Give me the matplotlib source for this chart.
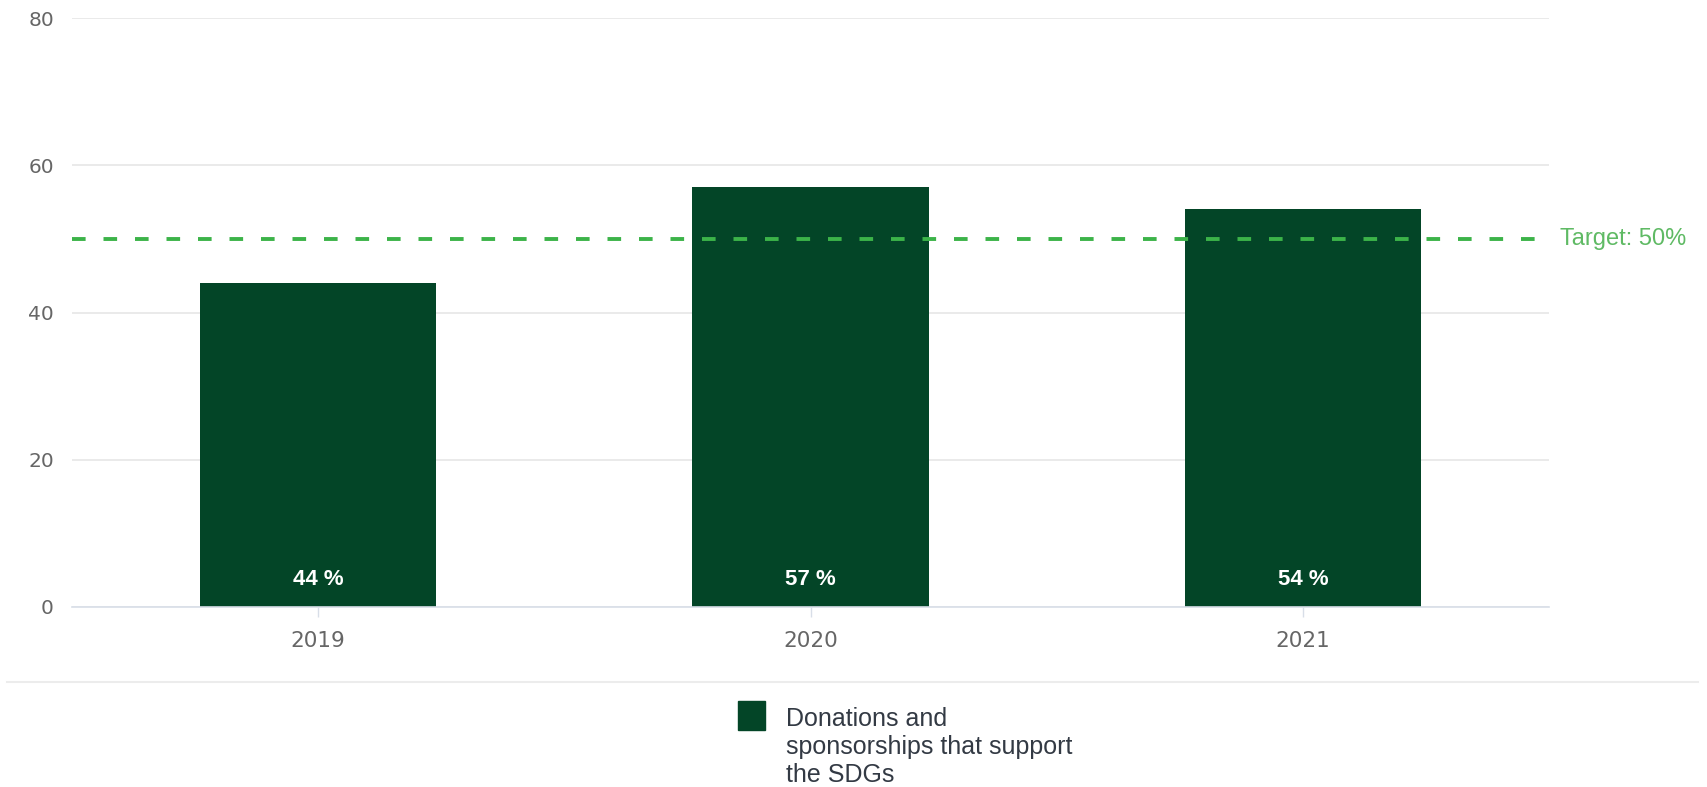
import matplotlib.pyplot as plt
from matplotlib.patches import Rectangle
from matplotlib.lines import Line2D

# Share of donations and sponsorships supporting the SDGs (%)
years = ["2019", "2020", "2021"]
share = [44, 57, 54]
target = 50
series_name = "Donations and\nsponsorships that support\nthe SDGs"

bar_color = "#034527"
target_color = "#3cb349"
grid_color = "#e6e6e6"

W, H = 1707, 787
fig = plt.figure(figsize=(W / 100, H / 100), dpi=100)
ax = fig.add_axes([72 / W, 1 - 607 / H, (1549 - 72) / W, (607 - 18) / H])

x = range(len(years))
bars = ax.bar(x, share, width=0.48, color=bar_color, zorder=2)
ax.set_xlim(-0.5, 2.5)
ax.set_ylim(0, 80)
ax.set_yticks([0, 20, 40, 60, 80])
ax.set_xticks(list(x))
ax.set_xticklabels(years)

ax.grid(axis="y", color=grid_color, linewidth=1.2, zorder=0)
for side in ["top", "right", "left"]:
    ax.spines[side].set_visible(False)
ax.spines["bottom"].set_color("#d8dee8")
ax.spines["bottom"].set_linewidth(1.2)
ax.tick_params(axis="y", length=0, pad=13, labelsize=14.5, labelcolor="#666666")
ax.tick_params(axis="x", length=7, width=1, color="#d8dee8", pad=10,
               labelsize=15.5, labelcolor="#666666")

# value labels inside the bars, near the base
for rect, v in zip(bars, share):
    ax.text(rect.get_x() + rect.get_width() / 2, 3.8, f"{v} %", ha="center", va="center",
            color="white", fontsize=16, fontweight="bold", family="Liberation Sans",
            zorder=3)

# target line
ax.axhline(target, color=target_color, linewidth=2.8, dashes=(3.5, 4.6), zorder=4)
ax.text(1.0075, target, f"Target: {target}%", transform=ax.get_yaxis_transform(),
        ha="left", va="center", color="#5fba64", fontsize=17,
        family="Liberation Sans", clip_on=False)

# separator above the legend
fig.add_artist(Line2D([7 / W, 1698 / W], [1 - 682 / H] * 2, color="#ececec",
                      linewidth=1.5))

# legend
fig.add_artist(Rectangle((738 / W, 1 - 730 / H), 27 / W, 29 / H,
                         color=bar_color, transform=fig.transFigure))
fig.text(786 / W, 1 - 747 / H, series_name, ha="left", va="center", fontsize=18,
         family="Liberation Sans", color="#333a44", linespacing=1.2)

fig.savefig("out.png", dpi=100, facecolor="white")
